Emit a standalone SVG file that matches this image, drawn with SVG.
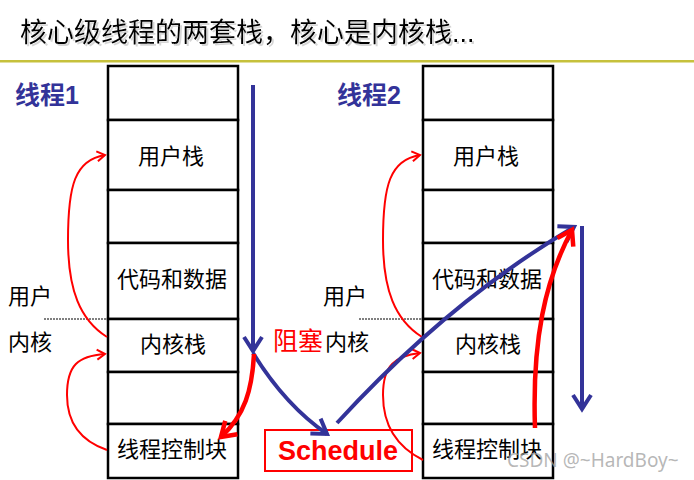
<svg xmlns="http://www.w3.org/2000/svg" width="694" height="480" viewBox="0 0 694 480">
<style>
.cell{fill:#fff;stroke:#000;stroke-width:2.5}
.lbl{font-family:"Liberation Sans","Noto Sans CJK SC",sans-serif;font-size:22px;fill:#000;text-anchor:middle}
.side{font-family:"Liberation Sans","Noto Sans CJK SC",sans-serif;font-size:22px;fill:#000}
.th{font-family:"Liberation Sans","Noto Sans CJK SC",sans-serif;font-size:25px;font-weight:bold;fill:#333399}
.blue{fill:none;stroke:#333399;stroke-width:4}
.redT{fill:none;stroke:#ff0000;stroke-width:4.5}
.redt{fill:none;stroke:#ff0000;stroke-width:2}
.dot{stroke:#000;stroke-width:1;stroke-dasharray:2,1}
</style>
<defs>
<marker id="ab" markerUnits="userSpaceOnUse" orient="auto" refX="0" refY="0" overflow="visible">
<path d="M-14,-9 L0,0 L-14,9" fill="none" stroke="#333399" stroke-width="4"/>
</marker>
<marker id="ar" markerUnits="userSpaceOnUse" orient="auto" refX="0" refY="0" overflow="visible">
<path d="M-14,-9 L0,0 L-14,9" fill="none" stroke="#ff0000" stroke-width="4.5"/>
</marker>
<marker id="ars" markerUnits="userSpaceOnUse" orient="auto" refX="0" refY="0" overflow="visible">
<path d="M-8,-5 L0,0 L-8,5" fill="none" stroke="#ff0000" stroke-width="2"/>
</marker>
<filter id="sh" x="-5%" y="-20%" width="110%" height="150%">
<feOffset in="SourceAlpha" dx="1.5" dy="1.5" result="o"/>
<feColorMatrix in="o" type="matrix" values="0 0 0 0 0.6  0 0 0 0 0.6  0 0 0 0 0.6  0 0 0 0.8 0" result="s"/>
<feMerge><feMergeNode in="s"/><feMergeNode in="SourceGraphic"/></feMerge>
</filter>
</defs>
<rect width="694" height="480" fill="#fff"/>
<g id="title">
<text x="20" y="42" font-family="'Liberation Sans','Noto Sans CJK SC',sans-serif" font-size="27" fill="#000" filter="url(#sh)">核心级线程的两套栈，核心是内核栈...</text>
<rect x="0" y="60" width="694" height="2.5" fill="#c6c13c"/>
</g>
<g id="stack1">
<rect class="cell" x="108" y="66" width="130" height="54"/>
<rect class="cell" x="108" y="120" width="130" height="70"/>
<rect class="cell" x="108" y="190" width="130" height="53"/>
<rect class="cell" x="108" y="243" width="130" height="76"/>
<rect class="cell" x="108" y="319" width="130" height="53"/>
<rect class="cell" x="108" y="372" width="130" height="52"/>
<rect class="cell" x="108" y="424" width="130" height="54"/>
<text class="lbl" x="171" y="164">用户栈</text>
<text class="lbl" x="172" y="287">代码和数据</text>
<text class="lbl" x="173" y="352">内核栈</text>
<text class="lbl" x="172" y="457">线程控制块</text>
</g>
<g id="stack2">
<rect class="cell" x="423" y="66" width="130" height="54"/>
<rect class="cell" x="423" y="120" width="130" height="70"/>
<rect class="cell" x="423" y="190" width="130" height="53"/>
<rect class="cell" x="423" y="243" width="130" height="76"/>
<rect class="cell" x="423" y="319" width="130" height="53"/>
<rect class="cell" x="423" y="372" width="130" height="52"/>
<rect class="cell" x="423" y="424" width="130" height="54"/>
<text class="lbl" x="486" y="164">用户栈</text>
<text class="lbl" x="487" y="287">代码和数据</text>
<text class="lbl" x="488" y="352">内核栈</text>
<text class="lbl" x="487" y="457">线程控制块</text>
</g>
<g id="labels">
<text class="th" x="15" y="104">线程1</text>
<text class="th" x="337" y="104">线程2</text>
<text class="side" x="8" y="304">用户</text>
<text class="side" x="8" y="350">内核</text>
<text class="side" x="323" y="304">用户</text>
<text class="side" x="325" y="350">内核</text>
<line class="dot" x1="44" y1="319" x2="108" y2="319"/>
<line class="dot" x1="359" y1="319" x2="423" y2="319"/>
<text x="273" y="350" font-family="'Liberation Sans','Noto Sans CJK SC',sans-serif" font-size="25" fill="#ff0000">阻塞</text>
</g>
<g id="schedule">
<rect x="265" y="430" width="147" height="41" fill="#fff" stroke="#ff0000" stroke-width="2"/>
<text x="338" y="460" text-anchor="middle" font-family="'Liberation Sans',Arial,sans-serif" font-size="27" font-weight="bold" fill="#ff0000">Schedule</text>
</g>
<g id="connectors">
<path class="redt" d="M107,337 C80,320 68,290 68,240 C68,185 75,160 105,155" marker-end="url(#ars)"/>
<path class="redt" d="M107,450 C78,440 67,420 67,395 C67,365 78,356 105,354" marker-end="url(#ars)"/>
<path class="redt" d="M422,337 C395,320 383,290 383,240 C383,185 390,160 420,155" marker-end="url(#ars)"/>
<path class="redt" d="M423,460 C393,445 383,420 383,395 C383,365 395,356 420,353" marker-end="url(#ars)"/>
<path class="blue" d="M253,85 L253,351" marker-end="url(#ab)"/>
<path class="blue" d="M253,353 Q285,405 327,434" marker-end="url(#ab)"/>
<path class="redT" d="M254,354 C252,390 245,415 221,437" marker-end="url(#ar)"/>
<path class="blue" d="M337,423 Q450,300 574,227" marker-end="url(#ab)"/>
<path class="redT" d="M535,428 C532,340 545,280 572,230" marker-end="url(#ar)"/>
<path class="blue" d="M582,226 L582,409" marker-end="url(#ab)"/>
</g>
<text x="507" y="467" font-family="'Noto Sans','Liberation Sans',sans-serif" font-size="19" fill="#a0a0a0" fill-opacity="0.75">CSDN @~HardBoy~</text>
</svg>
